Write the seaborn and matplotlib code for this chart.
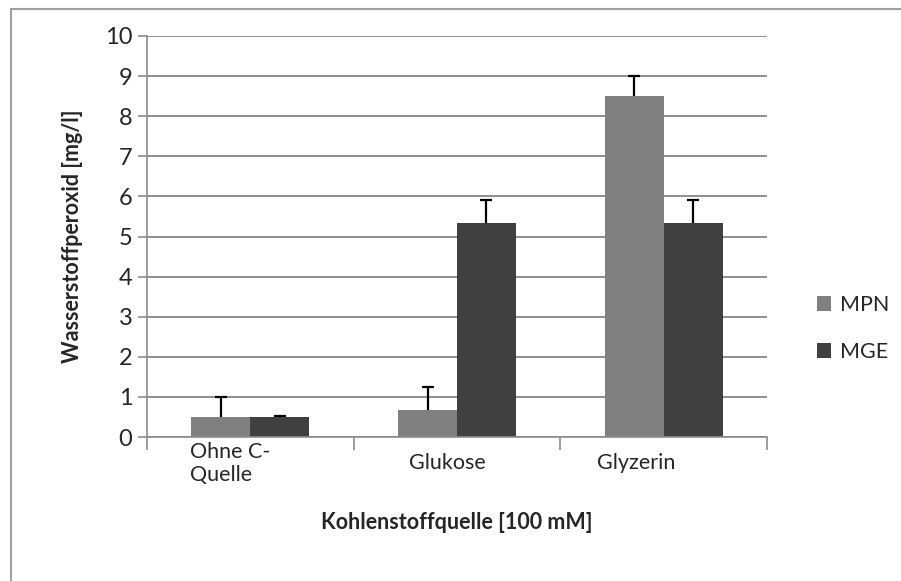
import matplotlib
matplotlib.use("Agg")
import matplotlib.pyplot as plt
import matplotlib.transforms as mtransforms
from matplotlib.patches import Patch
from matplotlib.lines import Line2D
import numpy as np
import pandas as pd
import seaborn as sns

# Daten
categories = ["Ohne C-\nQuelle", "Glukose", "Glyzerin"]
series = ["MPN", "MGE"]
mpn = [0.5, 0.67, 8.5]
mpn_err = [0.5, 0.58, 0.5]
mge = [0.5, 5.33, 5.33]
mge_err = [0.02, 0.58, 0.58]
yticks = list(range(0, 11))

colors = {"MPN": "#808080", "MGE": "#404040"}

sns.set_theme(style="white")
plt.rcParams["font.family"] = ["Lato", "DejaVu Sans"]

df = pd.DataFrame({
    "Quelle": categories * 2,
    "Serie": ["MPN"] * 3 + ["MGE"] * 3,
    "Wert": mpn + mge,
})

fig = plt.figure(figsize=(9.01, 5.81), dpi=100)
ax = fig.add_axes([147 / 901, 1 - 437 / 581, 620 / 901, 401 / 581])

sns.barplot(data=df, x="Quelle", y="Wert", hue="Serie", hue_order=series,
            palette=colors, width=0.57, gap=0, errorbar=None, legend=False,
            saturation=1, edgecolor="none", ax=ax)

# Fehlerbalken (nur nach oben)
errs = {"MPN": mpn_err, "MGE": mge_err}
vals = {"MPN": mpn, "MGE": mge}
for cont, name in zip(ax.containers, series):
    xs = [p.get_x() + p.get_width() / 2 for p in cont.patches]
    e = np.array(errs[name])
    eb = ax.errorbar(xs, vals[name], yerr=[np.zeros_like(e), e], fmt="none",
                     ecolor="black", elinewidth=1.6, capsize=4.3, capthick=1.6,
                     zorder=5)
    eb[1][0].set_visible(False)  # untere Kappe weg

ax.set_ylim(0, 10)
ax.set_xlim(-0.5, len(categories) - 0.5)
ax.set_yticks(yticks)
ax.yaxis.grid(True, color="#868686", linewidth=1.3)
ax.set_axisbelow(True)

# Kategoriegrenzen als Striche, Beschriftung in der Mitte
ax.set_xticks(np.arange(-0.5, len(categories)), labels=[""] * (len(categories) + 1))
ax.set_xticks(range(len(categories)), labels=categories, minor=True)
ax.tick_params(axis="x", which="major", length=9.5, width=1.2, color="#8c8c8c",
               bottom=True)
ax.tick_params(axis="x", which="minor", length=0, pad=19, labelsize=15.5)
ax.tick_params(axis="y", length=6.5, width=1.2, color="#8c8c8c", left=True,
               labelsize=17, pad=4)
offsets = [-20, -10, -27]
for lab, dx in zip(ax.get_xticklabels(minor=True), offsets):
    lab.set_verticalalignment("center")
    lab.set_multialignment("left")
    lab.set_transform(lab.get_transform() +
                      mtransforms.ScaledTranslation(dx / 100, 0, fig.dpi_scale_trans))

for s in ["top", "right"]:
    ax.spines[s].set_visible(False)
for s in ["left", "bottom"]:
    ax.spines[s].set_color("#8c8c8c")
    ax.spines[s].set_linewidth(1.2)

ax.set_xlabel("Kohlenstoffquelle [100 mM]", fontsize=15.5, fontweight="bold")
ax.xaxis.set_label_coords(0.5, -0.212)
ax.xaxis.label.set_verticalalignment("center")
ax.set_ylabel("Wasserstoffperoxid [mg/l]", fontsize=15.5, fontweight="bold")
ax.yaxis.set_label_coords(-0.12, 0.5)
ax.yaxis.label.set_verticalalignment("center")

handles = [Patch(facecolor=colors[n], edgecolor="none") for n in series]
fig.legend(handles, series, loc="center left",
           bbox_to_anchor=(817 / 901, 1 - 328.5 / 581), frameon=False,
           fontsize=15.5, handlelength=0.65, handleheight=0.65,
           handletextpad=0.4, labelspacing=1.25, borderpad=0, borderaxespad=0)

# Rahmen der Diagrammfläche
fig.add_artist(Line2D([11 / 901, 11 / 901], [0, 1 - 9 / 581],
                      transform=fig.transFigure, color="#a0a0a0", lw=1.5))
fig.add_artist(Line2D([11 / 901, 1], [1 - 9 / 581, 1 - 9 / 581],
                      transform=fig.transFigure, color="#a0a0a0", lw=1.5))

fig.savefig("out.png", dpi=100)
